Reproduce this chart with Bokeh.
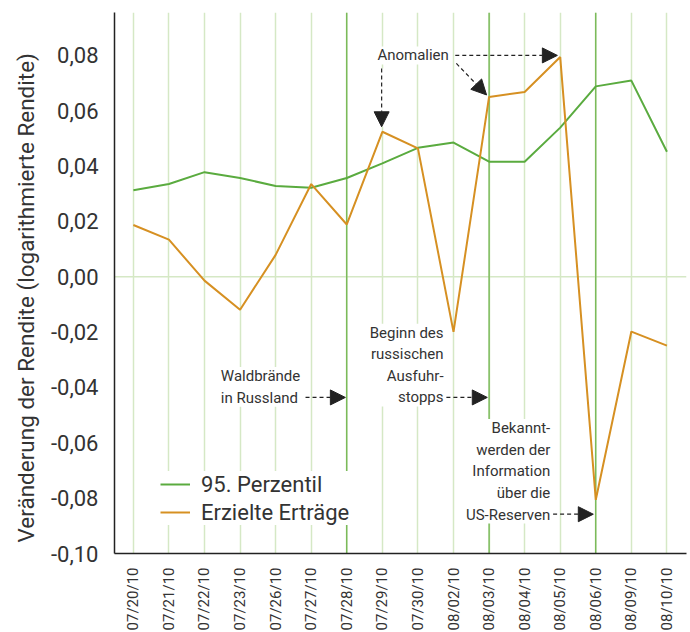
from bokeh.plotting import figure
from bokeh.models import (Range1d, FixedTicker, Span, Label, Arrow, NormalHead,
                          Legend, LegendItem, CustomJSTickFormatter, Title)
from bokeh.embed import file_html
from bokeh.resources import INLINE
import math

# ---- data ----
dates = ["07/20/10", "07/21/10", "07/22/10", "07/23/10", "07/26/10", "07/27/10",
         "07/28/10", "07/29/10", "07/30/10", "08/02/10", "08/03/10", "08/04/10",
         "08/05/10", "08/06/10", "08/09/10", "08/10/10"]
perzentil95 = [0.0313, 0.0335, 0.0378, 0.0357, 0.0328, 0.0322, 0.0357, 0.0410,
               0.0466, 0.0485, 0.0416, 0.0416, 0.0539, 0.0688, 0.0709, 0.0452]
ertraege = [0.0187, 0.0134, -0.0014, -0.0119, 0.0079, 0.0335, 0.0189, 0.0524,
            0.0464, -0.0199, 0.0650, 0.0668, 0.0794, -0.0806, -0.0198, -0.0249]
y_ticks = [-0.10, -0.08, -0.06, -0.04, -0.02, 0.00, 0.02, 0.04, 0.06, 0.08]
event_idx = [6, 10, 13]          # 07/28, 08/03, 08/06
anomaly_idx = [7, 10, 12]        # 07/29, 08/03, 08/05
y_title = "Veränderung der Rendite (logarithmierte Rendite)"

xs = list(range(len(dates)))

FONT = "Roboto"
TXT = "#333333"
GREEN = "#5aab3f"
ORANGE = "#d69022"
GRID = "#d5e8c5"
EVENT = "#6db34a"

X0, X1 = -0.53, 15.55
FW = 572
p = figure(frame_width=FW, frame_height=541, output_backend="svg",
           toolbar_location=None,
           x_range=Range1d(X0, X1), y_range=Range1d(-0.10, 0.0955))
p.min_border_left = 114
p.min_border_top = 12
p.min_border_right = 4
p.outline_line_color = None
p.background_fill_color = "white"

# grid
p.xgrid.ticker = FixedTicker(ticks=xs)
p.xgrid.grid_line_color = GRID
p.xgrid.grid_line_width = 1.5
p.ygrid.grid_line_color = None
p.add_layout(Span(location=0, dimension="width", line_color=GRID,
                  line_width=1.5, level="underlay"))
for i in event_idx:
    p.add_layout(Span(location=xs[i], dimension="height", line_color=EVENT,
                      line_width=1.3, level="underlay"))

# axes
p.xaxis.ticker = FixedTicker(ticks=xs)
p.xaxis.major_label_overrides = {i: d for i, d in enumerate(dates)}
p.xaxis.major_label_orientation = math.pi / 2
p.xaxis.major_label_text_font = FONT
p.xaxis.major_label_text_font_size = "15px"
p.xaxis.major_label_text_color = TXT
p.xaxis.major_label_standoff = 8
p.xaxis.major_tick_line_color = None
p.xaxis.minor_tick_line_color = None
p.xaxis.axis_line_color = "#222222"
p.xaxis.axis_line_width = 1.5

p.yaxis.ticker = FixedTicker(ticks=y_ticks)
p.yaxis.formatter = CustomJSTickFormatter(
    code="var s = tick.toFixed(2).replace('.', ','); return (s == '-0,00') ? '0,00' : s;")
p.yaxis.major_label_text_font = FONT
p.yaxis.major_label_text_font_size = "22px"
p.yaxis.major_label_text_color = TXT
p.yaxis.major_label_standoff = 10
p.yaxis.major_tick_line_color = None
p.yaxis.minor_tick_line_color = None
p.yaxis.axis_line_color = "#222222"
p.yaxis.axis_line_width = 1.5

# y-axis title as a left title, starting a little above the frame bottom
p.add_layout(Title(text=y_title, align="left", offset=11, standoff=18,
                   text_font=FONT, text_font_size="22.5px",
                   text_font_style="normal", text_color=TXT), "left")

# series
r1 = p.line(xs, perzentil95, line_color=GREEN, line_width=2)
r2 = p.line(xs, ertraege, line_color=ORANGE, line_width=2)

legend = Legend(items=[LegendItem(label="95. Perzentil", renderers=[r1]),
                       LegendItem(label="Erzielte Erträge", renderers=[r2])],
                location=(46, 28), border_line_color=None,
                background_fill_color="white", background_fill_alpha=1.0,
                padding=14, spacing=2, glyph_width=30, glyph_height=26,
                label_height=26, label_standoff=11,
                label_text_font=FONT, label_text_font_size="22px",
                label_text_color=TXT)
p.add_layout(legend)

# annotations
def note(x, y, text, align):
    p.add_layout(Label(x=x, y=y, text=text, text_align=align,
                       text_baseline="middle", text_font=FONT,
                       text_font_size="15px", text_color=TXT,
                       text_line_height=1.2,
                       background_fill_color="white", background_fill_alpha=1.0))

def arrow(x0, y0, x1, y1, under=False):
    if under:
        p.add_layout(Arrow(x_start=x0, y_start=y0, x_end=x1, y_end=y1, end=None,
                           line_color="white", line_width=6))
    p.add_layout(Arrow(x_start=x0, y_start=y0, x_end=x1, y_end=y1,
                       line_color="#222222", line_width=1.2, line_dash="4 3",
                       end=NormalHead(size=15, fill_color="#222222",
                                      line_color="#222222")))

note(6.86, 0.080, "Anomalien", "left")
a0, a1, a2 = anomaly_idx
arrow(xs[a0] - 0.02, 0.0753, xs[a0] - 0.02, ertraege[a0] + 0.0018, under=True)
arrow(9.08, 0.0771, xs[a1] - 0.07, ertraege[a1] + 0.0007)
arrow(9.05, 0.0800, xs[a2] - 0.08, 0.0800)

note(2.46, -0.0398, "Waldbrände\nin Russland", "left")
arrow(4.84, -0.0436, xs[event_idx[0]] - 0.04, -0.0436)

note(8.72, -0.0319, "Beginn des\nrussischen\nAusfuhr-\nstopps", "right")
arrow(8.80, -0.0436, xs[event_idx[1]] - 0.05, -0.0436)

note(11.72, -0.0703, "Bekannt-\nwerden der\nInformation\nüber die\nUS-Reserven", "right")
arrow(11.80, -0.0858, xs[event_idx[2]] - 0.07, -0.0858)

open("out.html", "w").write(file_html(p, INLINE))
